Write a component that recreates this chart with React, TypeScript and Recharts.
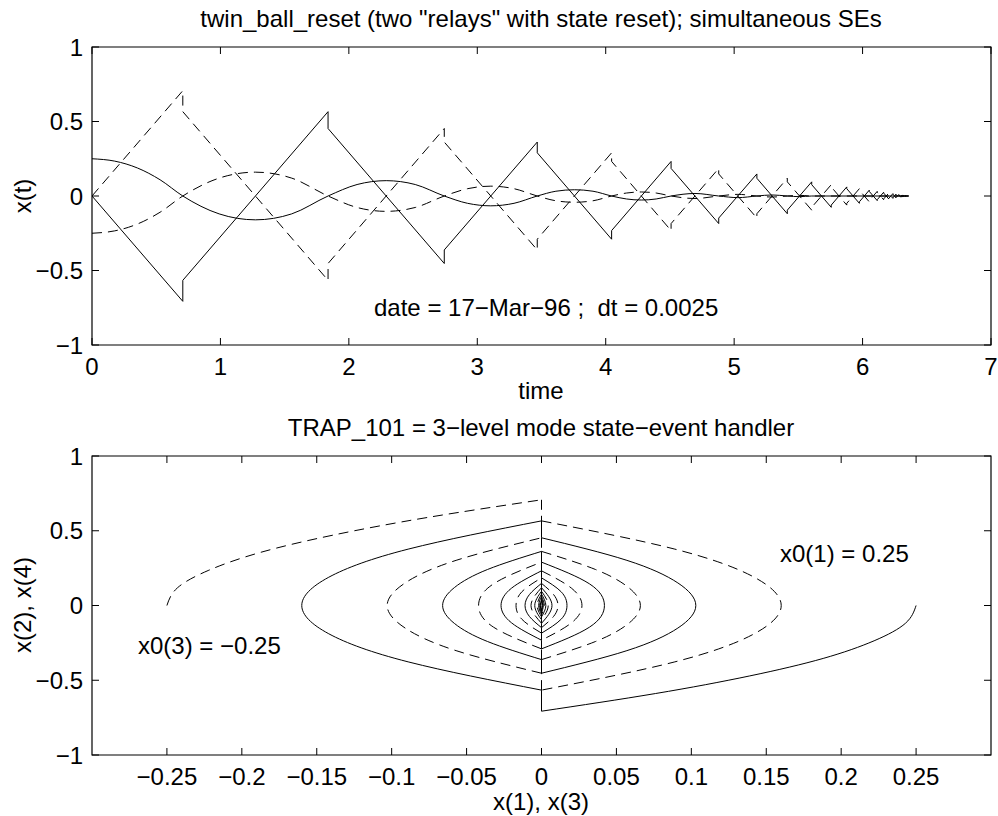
import React from 'react'
import { LineChart, Line, XAxis, YAxis, ReferenceArea } from 'recharts'

const FONT = '"Liberation Sans", Arial, Helvetica, sans-serif'
const FS = 24
const TICK = 7
const DASH = '10 6'

// ---------- upper panel: states vs time ----------
const timeTicks = [0, 1, 2, 3, 4, 5, 6, 7]
const stateTicks = [-1, -0.5, 0, 0.5, 1]

// both balls hit x = 0 at the same instants (simultaneous SEs)
const resetTimes = [0.707, 1.838, 2.743, 3.467, 4.046, 4.509, 4.88, 5.177, 5.414, 5.604, 5.756, 5.877, 5.975, 6.052, 6.114, 6.164, 6.204, 6.236, 6.261, 6.282, 6.298, 6.311, 6.321, 6.33]
// velocity just before / just after each reset
const x2Before = [-0.707, 0.566, -0.453, 0.362, -0.29, 0.232, -0.185, 0.148, -0.119, 0.095, -0.076, 0.061, -0.049, 0.039, -0.031, 0.025, -0.02, 0.016, -0.013, 0.01, -0.008, 0.007, -0.005, 0.004]
const x2After = [-0.566, 0.453, -0.362, 0.29, -0.232, 0.185, -0.148, 0.119, -0.095, 0.076, -0.061, 0.049, -0.039, 0.031, -0.025, 0.02, -0.016, 0.013, -0.01, 0.008, -0.007, 0.005, -0.004, 0.003]
const x4Before = [0.707, -0.566, 0.453, -0.362, 0.29, -0.232, 0.185, -0.148, 0.119, -0.095, 0.076, -0.061, 0.049, -0.039, 0.031, -0.025, 0.02, -0.016, 0.013, -0.01, 0.008, -0.007, 0.005, -0.004]
const x4After = [0.566, -0.453, 0.362, -0.29, 0.232, -0.185, 0.148, -0.119, 0.095, -0.076, 0.061, -0.049, 0.039, -0.031, 0.025, -0.02, 0.016, -0.013, 0.01, -0.008, 0.007, -0.005, 0.004, -0.003]
const endTime = 6.36

// positions
const posTime = [0, 0.177, 0.354, 0.53, 0.707, 0.99, 1.273, 1.555, 1.838, 2.064, 2.291, 2.517, 2.743, 2.924, 3.105, 3.286, 3.467, 3.612, 3.757, 3.901, 4.046, 4.162, 4.278, 4.393, 4.509, 4.695, 4.88, 5.029, 5.177, 5.296, 5.414, 5.509, 5.604, 6.36]
const x1Pos = [0.25, 0.234, 0.188, 0.109, 0, -0.12, -0.16, -0.12, 0, 0.077, 0.103, 0.077, 0, -0.049, -0.066, -0.049, 0, 0.032, 0.042, 0.032, 0, -0.02, -0.027, -0.02, 0, 0.017, 0, -0.011, 0, 0.007, 0, -0.0045, 0, 0]
const x3Pos = [-0.25, -0.234, -0.188, -0.109, 0, 0.12, 0.16, 0.12, 0, -0.077, -0.103, -0.077, 0, 0.049, 0.066, 0.049, 0, -0.032, -0.042, -0.032, 0, 0.02, 0.027, 0.02, 0, -0.017, 0, 0.011, 0, -0.007, 0, 0.0045, 0, 0]

// ---------- lower panel: phase plane ----------
const phaseTicks = [-0.25, -0.2, -0.15, -0.1, -0.05, 0, 0.05, 0.1, 0.15, 0.2, 0.25]

// x(1) vs x(2), one arc between two resets
const solidArcs: number[][][] = [
  [[0.25, 0], [0.243, -0.118], [0.222, -0.236], [0.188, -0.354], [0.139, -0.471], [0.076, -0.589], [0, -0.707]],
  [[0, -0.566], [-0.089, -0.377], [-0.142, -0.189], [-0.16, 0], [-0.142, 0.189], [-0.089, 0.377], [0, 0.566]],
  [[0, 0.453], [0.057, 0.302], [0.091, 0.151], [0.103, 0], [0.091, -0.151], [0.057, -0.302], [0, -0.453]],
  [[0, -0.362], [-0.036, -0.241], [-0.058, -0.121], [-0.066, 0], [-0.058, 0.121], [-0.036, 0.241], [0, 0.362]],
  [[0, 0.29], [0.032, 0.145], [0.042, 0], [0.032, -0.145], [0, -0.29]],
  [[0, -0.232], [-0.02, -0.116], [-0.027, 0], [-0.02, 0.116], [0, 0.232]],
  [[0, 0.185], [0.013, 0.093], [0.017, 0], [0.013, -0.093], [0, -0.185]],
  [[0, -0.148], [-0.008, -0.074], [-0.011, 0], [-0.008, 0.074], [0, 0.148]],
  [[0, 0.119], [0.007, 0], [0, -0.119]],
  [[0, -0.095], [-0.0045, 0], [0, 0.095]],
  [[0, 0.076], [0.0029, 0], [0, -0.076]],
  [[0, -0.061], [-0.0019, 0], [0, 0.061]],
  [[0, 0.049], [0.0012, 0], [0, -0.049]],
  [[0, -0.039], [-0.0008, 0], [0, 0.039]],
  [[0, 0.031], [0.0005, 0], [0, -0.031]],
]

// x(3) vs x(4)
const dashedArcs: number[][][] = [
  [[-0.25, 0], [-0.243, 0.118], [-0.222, 0.236], [-0.188, 0.354], [-0.139, 0.471], [-0.076, 0.589], [0, 0.707]],
  [[0, 0.566], [0.089, 0.377], [0.142, 0.189], [0.16, 0], [0.142, -0.189], [0.089, -0.377], [0, -0.566]],
  [[0, -0.453], [-0.057, -0.302], [-0.091, -0.151], [-0.103, 0], [-0.091, 0.151], [-0.057, 0.302], [0, 0.453]],
  [[0, 0.362], [0.036, 0.241], [0.058, 0.121], [0.066, 0], [0.058, -0.121], [0.036, -0.241], [0, -0.362]],
  [[0, -0.29], [-0.032, -0.145], [-0.042, 0], [-0.032, 0.145], [0, 0.29]],
  [[0, 0.232], [0.02, 0.116], [0.027, 0], [0.02, -0.116], [0, -0.232]],
  [[0, -0.185], [-0.013, -0.093], [-0.017, 0], [-0.013, 0.093], [0, 0.185]],
  [[0, 0.148], [0.008, 0.074], [0.011, 0], [0.008, -0.074], [0, -0.148]],
  [[0, -0.119], [-0.007, 0], [0, 0.119]],
  [[0, 0.095], [0.0045, 0], [0, -0.095]],
  [[0, -0.076], [-0.0029, 0], [0, 0.076]],
  [[0, 0.061], [0.0019, 0], [0, -0.061]],
  [[0, -0.049], [-0.0012, 0], [0, 0.049]],
  [[0, 0.039], [0.0008, 0], [0, -0.039]],
  [[0, -0.031], [-0.0005, 0], [0, 0.031]],
]

// ---------- helpers ----------
const fmt = (v: number) => (v < 0 ? '\u2212' + String(-v) : String(v))

function zigzag(before: number[], after: number[]) {
  const pts = [{ t: 0, v: 0 }]
  resetTimes.forEach((t, i) => {
    pts.push({ t, v: before[i] })
    pts.push({ t, v: after[i] })
  })
  pts.push({ t: endTime, v: 0 })
  return pts
}

const toXY = (arc: number[][]) => arc.map(([x, y]) => ({ x, y }))

// vertical jumps at x = 0, from the end of one arc to the start of the next
function jumps(arcs: number[][][]) {
  const out: { x: number; y: number }[][] = []
  for (let i = 0; i < arcs.length - 1; i++) {
    const a = arcs[i][arcs[i].length - 1]
    const b = arcs[i + 1][0]
    out.push([{ x: a[0], y: a[1] }, { x: b[0], y: b[1] }])
  }
  return out
}

type Box = { left: number; right: number; top: number; bottom: number }

function xTick(box: Box) {
  return (props: any) => {
    const { x, payload } = props
    return (
      <g>
        <line x1={x} x2={x} y1={box.bottom} y2={box.bottom - TICK} stroke="#000" />
        <line x1={x} x2={x} y1={box.top} y2={box.top + TICK} stroke="#000" />
        <text x={x} y={box.bottom + 30} textAnchor="middle" fontSize={FS} fontFamily={FONT} fill="#000">
          {fmt(payload.value)}
        </text>
      </g>
    )
  }
}

function yTick(box: Box) {
  return (props: any) => {
    const { y, payload } = props
    return (
      <g>
        <line x1={box.left} x2={box.left + TICK} y1={y} y2={y} stroke="#000" />
        <line x1={box.right} x2={box.right - TICK} y1={y} y2={y} stroke="#000" />
        <text x={box.left - 9} y={y} dy="0.36em" textAnchor="end" fontSize={FS} fontFamily={FONT} fill="#000">
          {fmt(payload.value)}
        </text>
      </g>
    )
  }
}

const lineProps = {
  stroke: '#000',
  strokeWidth: 1,
  dot: false,
  activeDot: false,
  isAnimationActive: false,
} as const

const topBox: Box = { left: 92, right: 991, top: 47, bottom: 345 }
const bottomBox: Box = { left: 92, right: 991, top: 56, bottom: 355 }

function TimePlot() {
  const x2 = zigzag(x2Before, x2After)
  const x4 = zigzag(x4Before, x4After)
  const p1 = posTime.map((t, i) => ({ t, v: x1Pos[i] }))
  const p3 = posTime.map((t, i) => ({ t, v: x3Pos[i] }))
  return (
    <LineChart width={998} height={400} margin={{ top: 47, right: 7, bottom: 15, left: 32 }}>
      <XAxis dataKey="t" type="number" domain={[0, 7]} ticks={timeTicks} interval={0} allowDataOverflow
        height={40} axisLine={false} tickLine={false} tickSize={0} tickMargin={0} tick={xTick(topBox)} />
      <YAxis type="number" domain={[-1, 1]} ticks={stateTicks} interval={0} allowDataOverflow
        width={60} axisLine={false} tickLine={false} tickSize={0} tickMargin={0} tick={yTick(topBox)} />
      <ReferenceArea x1={0} x2={7} y1={-1} y2={1} fill="none" fillOpacity={0} stroke="#000" strokeWidth={1.2} ifOverflow="visible" />
      <Line data={p1} dataKey="v" type="monotone" {...lineProps} />
      <Line data={p3} dataKey="v" type="monotone" {...lineProps} strokeDasharray={DASH} />
      <Line data={x2} dataKey="v" type="linear" {...lineProps} />
      <Line data={x4} dataKey="v" type="linear" {...lineProps} strokeDasharray={DASH} />
    </LineChart>
  )
}

function PhasePlot() {
  const sJumps = jumps(solidArcs)
  const dJumps = jumps(dashedArcs)
  return (
    <LineChart width={998} height={416} margin={{ top: 56, right: 7, bottom: 21, left: 32 }}>
      <XAxis dataKey="x" type="number" domain={[-0.3, 0.3]} ticks={phaseTicks} interval={0} allowDataOverflow
        height={40} axisLine={false} tickLine={false} tickSize={0} tickMargin={0} tick={xTick(bottomBox)} />
      <YAxis type="number" domain={[-1, 1]} ticks={stateTicks} interval={0} allowDataOverflow
        width={60} axisLine={false} tickLine={false} tickSize={0} tickMargin={0} tick={yTick(bottomBox)} />
      <ReferenceArea x1={-0.3} x2={0.3} y1={-1} y2={1} fill="none" fillOpacity={0} stroke="#000" strokeWidth={1.2} ifOverflow="visible" />
      {solidArcs.map((arc, i) => (
        <Line key={'sa' + i} data={toXY(arc)} dataKey="y" type="natural" {...lineProps} />
      ))}
      {sJumps.map((seg, i) => (
        <Line key={'sj' + i} data={seg} dataKey="y" type="linear" {...lineProps} />
      ))}
      {dashedArcs.map((arc, i) => (
        <Line key={'da' + i} data={toXY(arc)} dataKey="y" type="natural" {...lineProps} strokeDasharray={DASH} />
      ))}
      {dJumps.map((seg, i) => (
        <Line key={'dj' + i} data={seg} dataKey="y" type="linear" {...lineProps} strokeDasharray={DASH} />
      ))}
    </LineChart>
  )
}

const txt = { fontSize: FS, fontFamily: FONT, fill: '#000' }

export default function App() {
  return (
    <div style={{ position: 'absolute', left: 0, top: 0, width: 998, height: 816, background: '#fff' }}>
      <div style={{ position: 'absolute', left: 0, top: 0 }}>
        <TimePlot />
      </div>
      <div style={{ position: 'absolute', left: 0, top: 400 }}>
        <PhasePlot />
      </div>
      <svg width={998} height={816} style={{ position: 'absolute', left: 0, top: 0, pointerEvents: 'none' }}>
        <text x={541} y={27} textAnchor="middle" {...txt}>
          twin_ball_reset (two "relays" with state reset); simultaneous SEs
        </text>
        <text transform="translate(31,196) rotate(-90)" textAnchor="middle" {...txt}>x(t)</text>
        <text x={374} y={316} {...txt} style={{ whiteSpace: 'pre' }}>{'date = 17\u2212Mar\u221296 ;  dt = 0.0025'}</text>
        <text x={541} y={399} textAnchor="middle" {...txt}>time</text>
        <text x={541} y={436} textAnchor="middle" {...txt}>TRAP_101 = 3{'\u2212'}level mode state{'\u2212'}event handler</text>
        <text transform="translate(31,605) rotate(-90)" textAnchor="middle" {...txt}>x(2), x(4)</text>
        <text x={541} y={810} textAnchor="middle" {...txt}>x(1), x(3)</text>
        <text x={780} y={562} {...txt}>x0(1) = 0.25</text>
        <text x={138} y={654} {...txt}>{'x0(3) = \u22120.25'}</text>
      </svg>
    </div>
  )
}
